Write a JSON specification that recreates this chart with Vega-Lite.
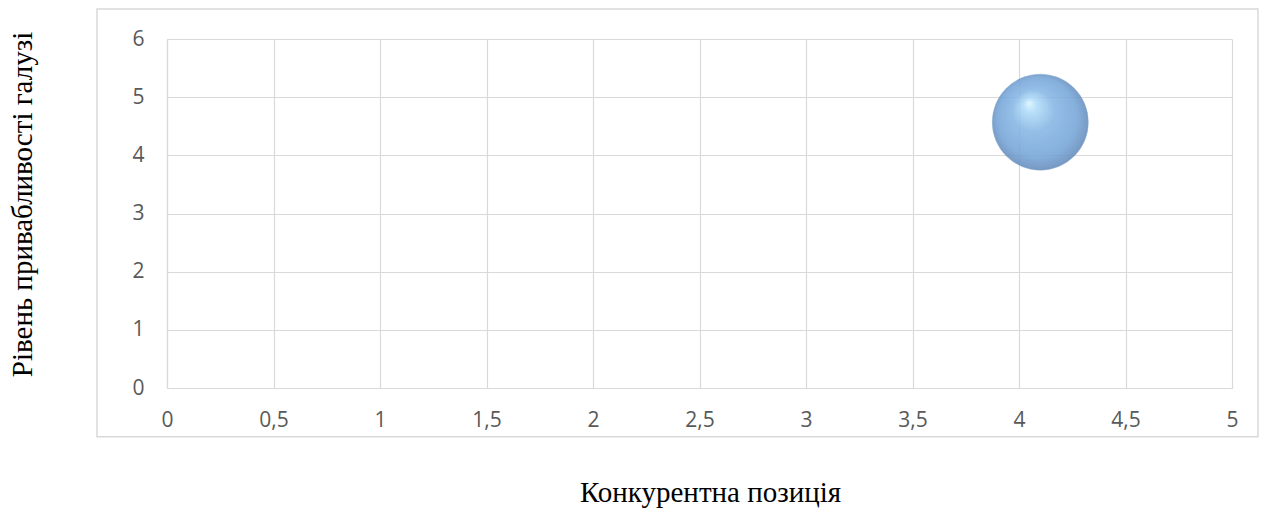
{
  "$schema": "https://vega.github.io/schema/vega-lite/v6.json",
  "autosize": {"type": "none"},
  "width": 1065,
  "height": 349,
  "padding": {"left": 167, "top": 39, "right": 36, "bottom": 121},
  "background": "white",
  "config": {
    "view": {"stroke": null},
    "axis": {
      "grid": true,
      "gridColor": "#d9d9d9",
      "gridWidth": 1.2,
      "domainColor": "#d9d9d9",
      "domainWidth": 1.2,
      "ticks": false,
      "labelFlush": false,
      "labelFont": "Open Sans",
      "labelFontSize": 21,
      "labelColor": "#595959",
      "titleFont": "Liberation Serif",
      "titleFontSize": 29,
      "titleFontWeight": "normal",
      "titleColor": "#000000"
    }
  },
  "data": {"values": [{"x": 4.1, "y": 4.57}]},
  "layer": [
    {
      "mark": {"type": "rect", "fill": null, "stroke": "#d9d9d9", "strokeWidth": 1.5, "clip": false},
      "encoding": {
        "x": {"datum": -0.3286, "type": "quantitative", "scale": {"domain": [0, 5], "nice": false}},
        "x2": {"datum": 5.122},
        "y": {"datum": 6.517, "type": "quantitative", "scale": {"domain": [0, 6], "nice": false}},
        "y2": {"datum": -0.837}
      }
    },
    {
      "mark": {
        "type": "point",
        "filled": true,
        "opacity": 0.88,
        "size": 9216,
        "stroke": "#7a9fc8",
        "strokeWidth": 0.5,
        "fill": {
          "gradient": "radial",
          "x1": 0.38, "y1": 0.3, "r1": 0,
          "x2": 0.5, "y2": 0.5, "r2": 0.55,
          "stops": [
            {"offset": 0, "color": "#dcf6ff"},
            {"offset": 0.12, "color": "#b2defa"},
            {"offset": 0.4, "color": "#86b6e4"},
            {"offset": 0.75, "color": "#76a6d8"},
            {"offset": 0.9, "color": "#6790c0"},
            {"offset": 1, "color": "#5a7fab"}
          ]
        }
      },
      "encoding": {
        "x": {
          "field": "x", "type": "quantitative",
          "scale": {"domain": [0, 5], "nice": false},
          "axis": {
            "values": [0, 0.5, 1, 1.5, 2, 2.5, 3, 3.5, 4, 4.5, 5],
            "labelExpr": "replace(format(datum.value, '~g'), '.', ',')",
            "labelPadding": 21,
            "title": "Конкурентна позиція",
            "titleX": 543,
            "titleY": 104,
            "titleBaseline": "middle"
          }
        },
        "y": {
          "field": "y", "type": "quantitative",
          "scale": {"domain": [0, 6], "nice": false},
          "axis": {
            "values": [0, 1, 2, 3, 4, 5, 6],
            "labelExpr": "format(datum.value, '~g')",
            "labelPadding": 23,
            "title": "Рівень привабливості галузі",
            "titleX": -145,
            "titleY": 165,
            "titleAngle": -90,
            "titleAlign": "center",
            "titleBaseline": "middle"
          }
        }
      }
    }
  ]
}
